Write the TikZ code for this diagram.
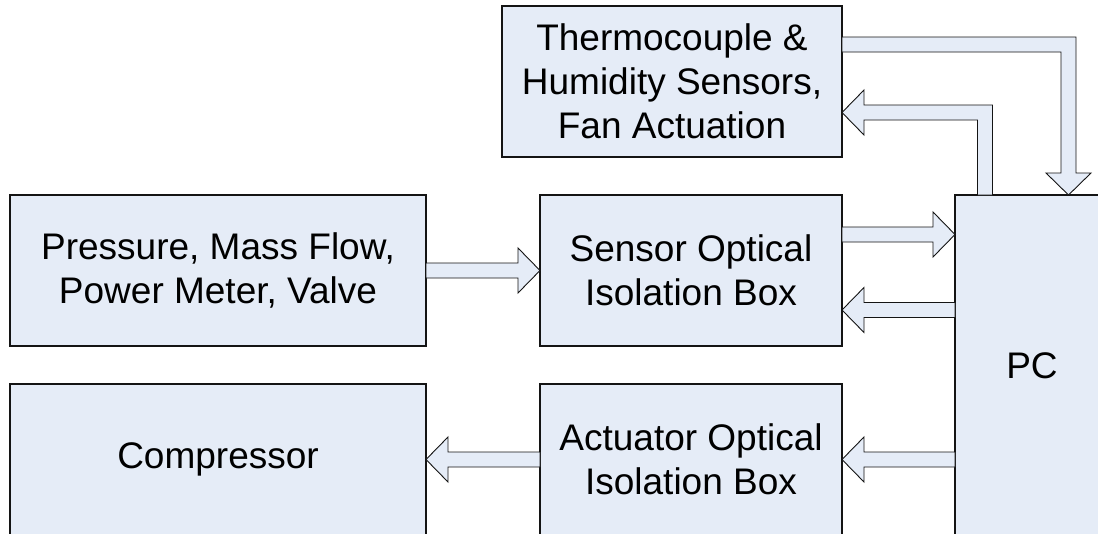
\documentclass[tikz,border=0pt]{standalone}
\usepackage{fontspec}
\setmainfont{Liberation Sans}
\usetikzlibrary{calc}

\definecolor{boxfill}{RGB}{229,236,247}
\definecolor{edge}{RGB}{20,20,20}

\tikzset{
  blockbox/.style={draw=edge, line width=1.1pt, fill=boxfill, rectangle,
    inner sep=0pt, outer sep=0pt, align=center,
    font=\fontsize{37}{44}\selectfont},
  blk/.style={draw=edge, line width=0.9pt, fill=boxfill, line join=miter}
}

% right-pointing block arrow: shaft starts at #1, tip at #2 (same height)
\newcommand\fatright[2]{%
  \draw[blk] ([yshift=7.5pt]#1) -- ([xshift=-22pt,yshift=7.5pt]#2)
    -- ([xshift=-22pt,yshift=22.5pt]#2) -- (#2)
    -- ([xshift=-22pt,yshift=-22.5pt]#2) -- ([xshift=-22pt,yshift=-7.5pt]#2)
    -- ([yshift=-7.5pt]#1) -- cycle;}
% left-pointing block arrow: shaft starts at #1, tip at #2 (same height)
\newcommand\fatleft[2]{%
  \draw[blk] ([yshift=7.5pt]#1) -- ([xshift=22pt,yshift=7.5pt]#2)
    -- ([xshift=22pt,yshift=22.5pt]#2) -- (#2)
    -- ([xshift=22pt,yshift=-22.5pt]#2) -- ([xshift=22pt,yshift=-7.5pt]#2)
    -- ([yshift=-7.5pt]#1) -- cycle;}

\begin{document}
\begin{tikzpicture}[x=1pt, y=-1pt]
  \useasboundingbox (0,0) rectangle (1098,533);
  \clip (0,0) rectangle (1098,533);

  % blocks
  \node[blockbox, minimum width=340pt, minimum height=151pt] (therm) at (672,81.5)
    {Thermocouple \&\\Humidity Sensors,\\Fan Actuation};
  \node[blockbox, minimum width=416pt, minimum height=151pt] (press) at (218,270.5)
    {Pressure, Mass Flow,\\Power Meter, Valve};
  \node[blockbox, minimum width=302pt, minimum height=151pt] (sens) at (691,270.5)
    {Sensor Optical\\Isolation Box};
  \node[blockbox, minimum width=416pt, minimum height=151pt] (comp) at (218,459.5)
    {Compressor};
  \node[blockbox, minimum width=302pt, minimum height=151pt] (act) at (691,459.5)
    {Actuator Optical\\Isolation Box};
  \node[blockbox, minimum width=154pt, minimum height=342pt] (pc) at (1032,366)
    {PC};

  % straight connectors
  \fatright{press.east}{sens.west}

  \coordinate (s2a) at ([yshift=36pt]sens.east);
  \coordinate (s2b) at (s2a -| pc.west);
  \fatright{s2a}{s2b}

  \coordinate (s3b) at ([yshift=-39.5pt]sens.east);
  \coordinate (s3a) at (s3b -| pc.west);
  \fatleft{s3a}{s3b}

  \coordinate (a4a) at (act.east -| pc.west);
  \fatleft{a4a}{act.east}

  \fatleft{act.west}{comp.east}

  % thermocouple block -> PC (bent)
  \coordinate (c6s) at ([yshift=37pt]therm.east);
  \coordinate (c6e) at ([xshift=36.5pt]pc.north);
  \coordinate (c6c) at (c6e |- c6s);
  \draw[blk] ([yshift=7.5pt]c6s) -- ([xshift=7.5pt,yshift=7.5pt]c6c)
    -- ([xshift=7.5pt,yshift=22pt]c6e) -- ([xshift=22.5pt,yshift=22pt]c6e)
    -- (c6e) -- ([xshift=-22.5pt,yshift=22pt]c6e)
    -- ([xshift=-7.5pt,yshift=22pt]c6e) -- ([xshift=-7.5pt,yshift=-7.5pt]c6c)
    -- ([yshift=-7.5pt]c6s) -- cycle;

  % PC -> thermocouple block (bent)
  \coordinate (c7e) at ([yshift=-31pt]therm.east);
  \coordinate (c7s) at ([xshift=-47pt]pc.north);
  \coordinate (c7c) at (c7s |- c7e);
  \draw[blk] ([xshift=-7.5pt]c7s) -- ([xshift=-7.5pt,yshift=-7.5pt]c7c)
    -- ([xshift=22pt,yshift=-7.5pt]c7e) -- ([xshift=22pt,yshift=-22.5pt]c7e)
    -- (c7e) -- ([xshift=22pt,yshift=22.5pt]c7e)
    -- ([xshift=22pt,yshift=7.5pt]c7e) -- ([xshift=7.5pt,yshift=7.5pt]c7c)
    -- ([xshift=7.5pt]c7s) -- cycle;
\end{tikzpicture}
\end{document}
